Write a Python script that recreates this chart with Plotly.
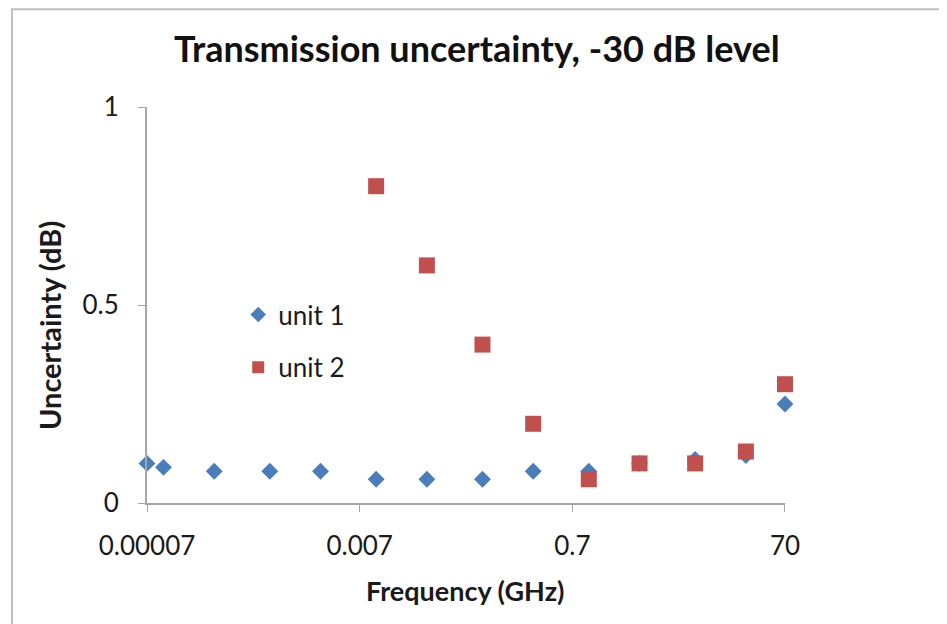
import math
import plotly.graph_objects as go

# frequency points (GHz) and uncertainty (dB)
freq_unit1 = [0.00007, 0.0001, 0.0003, 0.001, 0.003, 0.01, 0.03, 0.1, 0.3, 1, 3, 10, 30, 70]
unc_unit1 = [0.10, 0.09, 0.08, 0.08, 0.08, 0.06, 0.06, 0.06, 0.08, 0.08, 0.10, 0.11, 0.12, 0.25]

freq_unit2 = [0.01, 0.03, 0.1, 0.3, 1, 3, 10, 30, 70]
unc_unit2 = [0.80, 0.60, 0.40, 0.20, 0.06, 0.10, 0.10, 0.13, 0.30]

x_ticks = [0.00007, 0.007, 0.7, 70]
x_tick_labels = ['0.00007', '0.007', '0.7', '70']
y_ticks = [0, 0.5, 1]

FONT = 'Lato'
BLUE = '#4a7ebb'
RED = '#c0504d'

fig = go.Figure()
fig.add_trace(go.Scatter(
    x=freq_unit1, y=unc_unit1, mode='markers', name='unit 1',
    legendgroup='u1', cliponaxis=False,
    marker=dict(symbol='diamond', size=13, color=BLUE),
))
fig.add_trace(go.Scatter(
    x=freq_unit2, y=unc_unit2, mode='markers', name='unit 2',
    legendgroup='u2', cliponaxis=False,
    marker=dict(symbol='square', size=16, color=RED),
))

# page body adds 8px, so the margins are shifted by that much
fig.update_layout(
    width=947, height=624,
    margin=dict(l=139, r=170, t=99, b=129, autoexpand=False),
    paper_bgcolor='white', plot_bgcolor='white',
    font=dict(family=FONT, color='#1a1a1a', size=26),
    legend=dict(
        x=0.143, y=0.535, xanchor='left', yanchor='top',
        bgcolor='rgba(0,0,0,0)', font=dict(size=26),
        itemsizing='constant', tracegroupgap=16,
    ),
    showlegend=True,
)

x_lo = math.log10(x_ticks[0]) - 1e-4
x_hi = math.log10(x_ticks[-1]) + 1e-4

fig.update_xaxes(
    type='log', automargin=False,
    range=[x_lo, x_hi],
    tickvals=x_ticks, ticktext=x_tick_labels,
    showgrid=False, zeroline=False,
    showline=True, linecolor='#a6a6a6', linewidth=2,
    ticks='outside', ticklen=7, tickcolor='#a6a6a6', tickwidth=1,
    tickfont=dict(size=26), ticklabelstandoff=12,
)
fig.update_yaxes(
    automargin=False,
    range=[0, 1],
    tickvals=y_ticks, ticktext=['0', '0.5', '1'],
    showgrid=False, zeroline=False,
    showline=True, linecolor='#a6a6a6', linewidth=2,
    ticks='outside', ticklen=7, tickcolor='#a6a6a6', tickwidth=1,
    tickfont=dict(size=26), ticklabelstandoff=14,
)

# chart title and axis titles placed as Excel had them
fig.add_annotation(
    text='<b>Transmission uncertainty, -30 dB level</b>',
    xref='paper', yref='paper', x=0.517, y=1.149, showarrow=False,
    xanchor='center', yanchor='middle', font=dict(size=36, color='#111'),
)
fig.add_annotation(
    text='<b>Frequency (GHz)</b>',
    xref='paper', yref='paper', x=0.498, y=-0.22, showarrow=False,
    xanchor='center', yanchor='middle', font=dict(size=27),
)
fig.add_annotation(
    text='<b>Uncertainty (dB)</b>', textangle=-90,
    xref='paper', yref='paper', x=-0.152, y=0.447, showarrow=False,
    xanchor='center', yanchor='middle', font=dict(size=29),
)

# outer chart border
fig.add_shape(
    type='rect', xref='paper', yref='paper',
    x0=-0.2116, x1=1.31, y0=-0.40, y1=1.247,
    line=dict(color='#bfbfbf', width=2), fillcolor='rgba(0,0,0,0)',
    layer='below',
)

fig.write_html('out.html')
